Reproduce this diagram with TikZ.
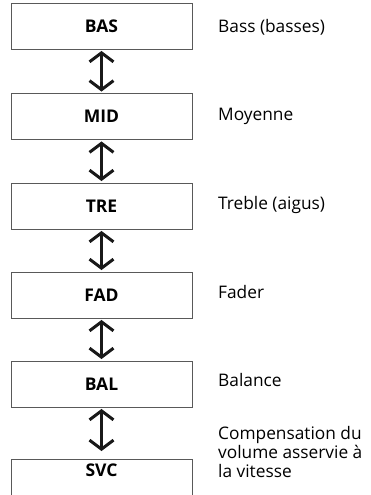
\documentclass[tikz,border=0pt]{standalone}
\usepackage{fontspec}
\setmainfont{Open Sans}
\usetikzlibrary{arrows.meta}
\begin{document}
\begin{tikzpicture}[x=1pt,y=-1pt,
  modebox/.style={draw=black!65, line width=0.9pt, minimum width=181pt, minimum height=46pt, inner sep=0pt,
    font=\fontsize{17.5}{19}\selectfont\bfseries},
  desc/.style={anchor=base west, inner sep=0pt, font=\fontsize{17.3}{19}\selectfont, align=left},
  updown/.style={line width=3pt, black!90, {Straight Barb[length=9pt,width=24pt]}-{Straight Barb[length=9pt,width=24pt]},
    shorten <=1.5pt, shorten >=1.5pt}]
\clip (0,0) rectangle (371,495);
\node[modebox] (bas) at (101.5,26) {BAS};
\node[modebox] (mid) at (101.5,116.5) {MID};
\node[modebox] (tre) at (101.5,206) {TRE};
\node[modebox] (fad) at (101.5,295) {FAD};
\node[modebox] (bal) at (101.5,384) {BAL};
\node[modebox, anchor=north, minimum height=0pt, text height=17.5pt, text depth=30pt] (svc) at (101.5,459) {SVC};
\draw[updown] (bas) -- (mid);
\draw[updown] (mid) -- (tre);
\draw[updown] (tre) -- (fad);
\draw[updown] (fad) -- (bal);
\draw[updown, shorten >=8pt] (bal) -- (svc);
\node[desc] (dbas) at (218,33) {Bass (basses)};
\node[desc] (dmid) at (218,120) {Moyenne};
\node[desc] (dtre) at (218,209) {Treble (aigus)};
\node[desc] (dfad) at (218,298) {Fader};
\node[desc] (dbal) at (218,386) {Balance};
\node[desc] (dsvc) at (218,477) {Compensation du\\volume asservie à\\la vitesse};
\end{tikzpicture}
\end{document}
